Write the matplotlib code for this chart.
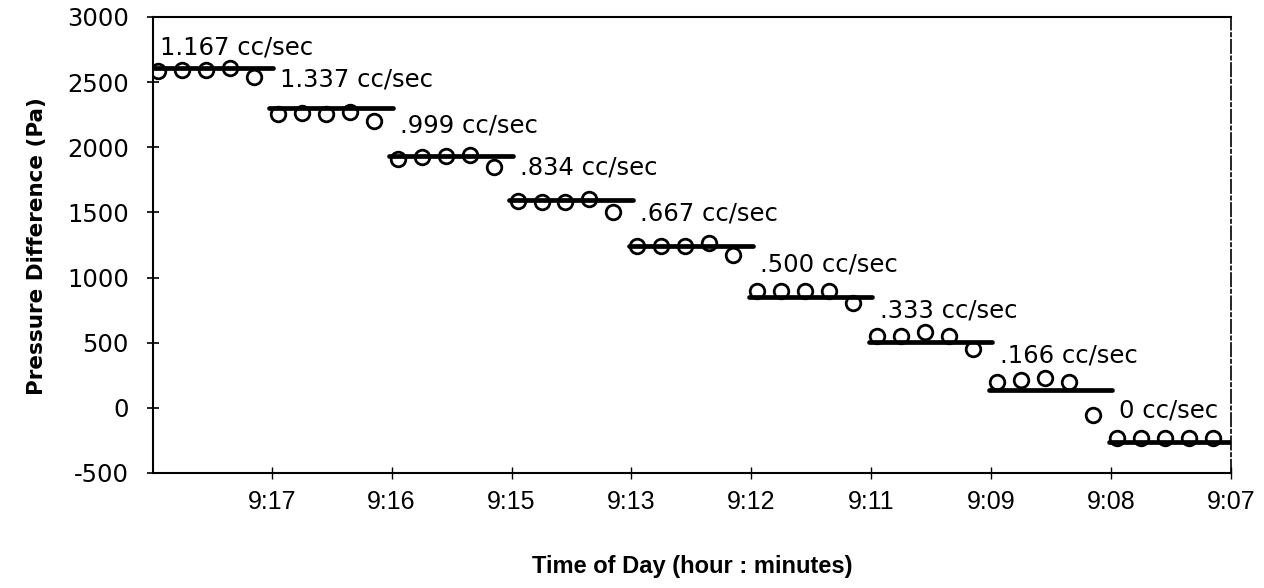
import matplotlib
matplotlib.use("Agg")
import matplotlib.pyplot as plt

plt.rcParams["axes.unicode_minus"] = False

# tick labels on the time axis (one every 5 readings)
time_labels = ["9:17", "9:16", "9:15", "9:13", "9:12", "9:11", "9:09", "9:08", "9:07"]

# flow rate of each step
flow_labels = ["1.167 cc/sec", "1.337 cc/sec", ".999 cc/sec", ".834 cc/sec", ".667 cc/sec",
               ".500 cc/sec", ".333 cc/sec", ".166 cc/sec", "0 cc/sec"]

# measured pressure difference (Pa), 5 readings per flow step
p_step1 = [2585, 2595, 2590, 2605, 2540]
p_step2 = [2255, 2260, 2258, 2272, 2200]
p_step3 = [1910, 1922, 1930, 1940, 1850]
p_step4 = [1587, 1580, 1580, 1605, 1502]
p_step5 = [1246, 1246, 1246, 1267, 1177]
p_step6 = [895, 895, 895, 895, 805]
p_step7 = [554, 554, 579, 554, 452]
p_step8 = [202, 210, 228, 202, -54]
p_step9 = [-230, -230, -228, -230, -230]

# steady level drawn for each step (Pa)
step_level = [2610, 2298, 1933, 1595, 1241, 852, 502, 138, -262]

# label baseline heights (Pa)
label_y = [2715, 2470, 2115, 1792, 1438, 1046, 692, 346, -77]

steps = [p_step1, p_step2, p_step3, p_step4, p_step5, p_step6, p_step7, p_step8, p_step9]

fig = plt.figure(figsize=(12.64, 5.88), dpi=100)
ax = fig.add_axes([153 / 1264, 1 - 473 / 588, (1231 - 153) / 1264, (473 - 17) / 588])

narrow = ["Liberation Sans Narrow", "Liberation Sans"]

for i, vals in enumerate(steps):
    x = [5 * i + j for j in range(len(vals))]
    ax.plot(x, vals, linestyle="none", marker="o", markersize=10.5,
            markerfacecolor="none", markeredgecolor="black", markeredgewidth=2.0,
            zorder=3)
    ax.plot([5 * i - 0.35, 5 * i + 4.8], [step_level[i], step_level[i]],
            color="black", linewidth=3.4, solid_capstyle="round", zorder=2)
    ax.text(5 * i + 0.1, label_y[i], flow_labels[i], ha="left", va="baseline",
            fontsize=17.5, family="DejaVu Sans", color="black")

ax.set_xlim(-0.2, 44.75)
ax.set_ylim(-500, 3000)
ax.set_yticks(range(-500, 3001, 500))
ax.set_xticks([5 * j - 0.25 for j in range(1, 10)])
ax.set_xticklabels(time_labels, family=narrow, fontsize=18)
for lab in ax.get_yticklabels():
    lab.set_fontsize(17.5)
    lab.set_family("DejaVu Sans")

ax.tick_params(axis="y", direction="inout", length=9, width=1.2, pad=13)
ax.tick_params(axis="x", direction="inout", length=8, width=1.0, pad=8)

for side in ["left", "bottom", "top"]:
    ax.spines[side].set_linewidth(1.5)
ax.spines["right"].set_linewidth(1.2)
ax.spines["right"].set_linestyle((0, (8, 2, 2, 2)))

fig.text(37 / 1264, 1 - 246 / 588, "Pressure Difference (Pa)", rotation=90,
         ha="center", va="center", fontsize=15.5, fontweight="bold", family="DejaVu Sans")
fig.text(692 / 1264, 1 - 567 / 588, "Time of Day (hour : minutes)",
         ha="center", va="center", fontsize=17, fontweight="bold", family=narrow)

fig.savefig("out.png", dpi=100)
